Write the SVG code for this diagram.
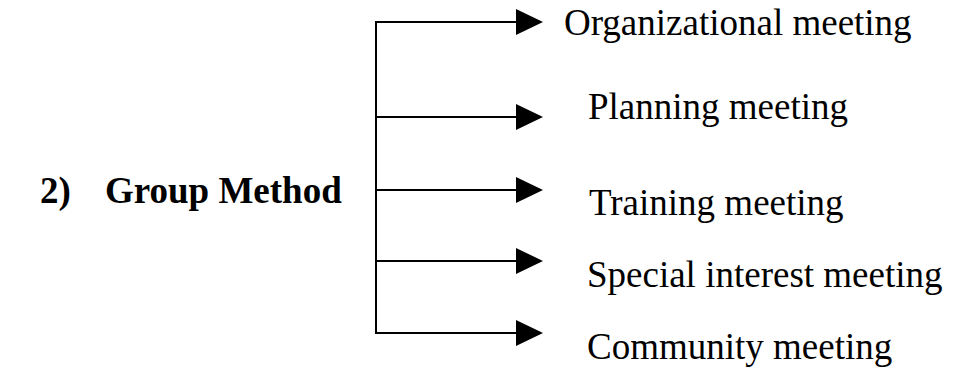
<svg xmlns="http://www.w3.org/2000/svg" width="953" height="371" viewBox="0 0 953 371">
<style>
text{font-family:"Liberation Serif","Times New Roman",serif;font-size:37px;fill:#000}
.b{font-weight:bold}
.ln{stroke:#000;stroke-width:2;fill:none}
</style>
<defs>
<marker id="ah" markerUnits="userSpaceOnUse" markerWidth="28" markerHeight="28" refX="0" refY="13" orient="auto" viewBox="0 0 28 26">
<polygon points="0,0 27,13 0,26" fill="#000"/>
</marker>
</defs>
<rect width="953" height="371" fill="#fff"/>
<g id="connectors">
<line class="ln" x1="376" y1="21" x2="376" y2="334"/>
<line class="ln" x1="375" y1="22" x2="516" y2="22" marker-end="url(#ah)"/>
<line class="ln" x1="375" y1="117" x2="516" y2="117" marker-end="url(#ah)"/>
<line class="ln" x1="375" y1="190" x2="516" y2="190" marker-end="url(#ah)"/>
<line class="ln" x1="375" y1="261" x2="516" y2="261" marker-end="url(#ah)"/>
<line class="ln" x1="375" y1="333" x2="516" y2="333" marker-end="url(#ah)"/>
</g>
<g id="root"><text class="b" x="40" y="203">2)</text><text class="b" x="105" y="203">Group Method</text></g>
<g id="n1"><text x="564" y="35">Organizational meeting</text></g>
<g id="n2"><text x="588" y="119">Planning meeting</text></g>
<g id="n3"><text x="589" y="215">Training meeting</text></g>
<g id="n4"><text x="587" y="287">Special interest meeting</text></g>
<g id="n5"><text x="587" y="359">Community meeting</text></g>
</svg>
